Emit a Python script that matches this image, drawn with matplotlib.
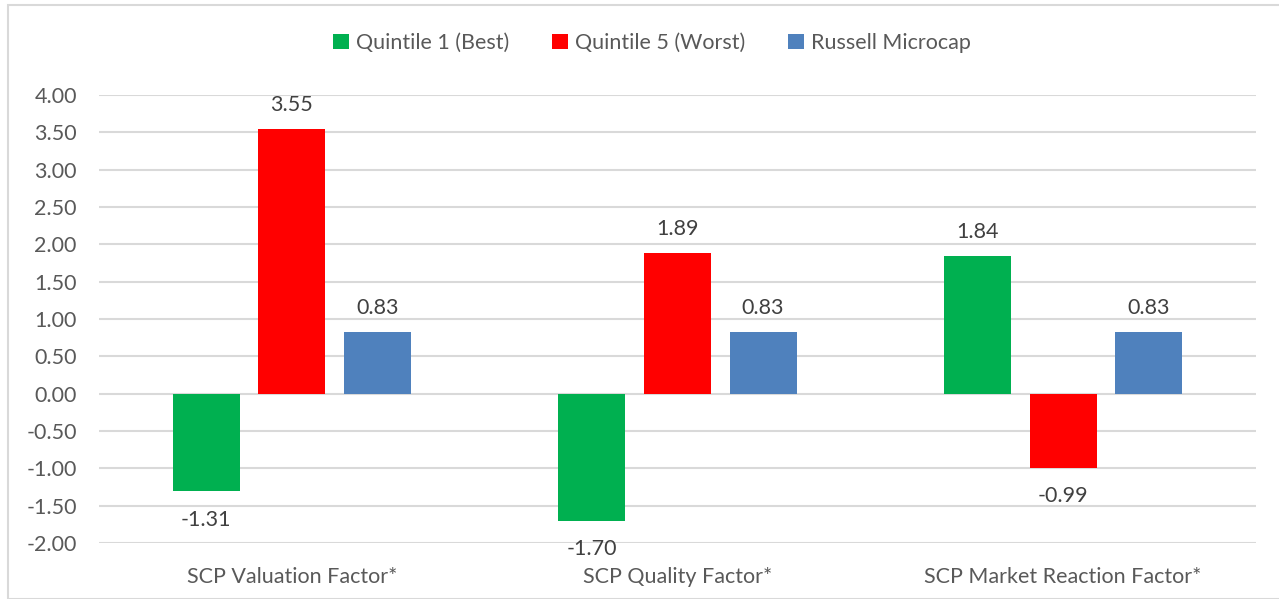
import numpy as np
import matplotlib.pyplot as plt
from matplotlib.patches import Rectangle

categories = ["SCP Valuation Factor*", "SCP Quality Factor*", "SCP Market Reaction Factor*"]
series_names = ["Quintile 1 (Best)", "Quintile 5 (Worst)", "Russell Microcap"]
q1 = [-1.31, -1.70, 1.84]
q5 = [3.55, 1.89, -0.99]
microcap = [0.83, 0.83, 0.83]
colors = ["#00B050", "#FF0000", "#4F81BD"]

plt.rcParams["font.family"] = ["Lato", "DejaVu Sans"]
txt = "#595959"
fs = 15.5

fig = plt.figure(figsize=(12.79, 5.99), dpi=100)
# chart frame
fig.patches.append(Rectangle((8 / 1279, 0), 1.0, 1 - 5 / 599, transform=fig.transFigure,
                             fill=False, edgecolor="#d9d9d9", linewidth=1.5))
ax = fig.add_axes([99 / 1279, 1 - 543 / 599, (1256 - 99) / 1279, (543 - 95) / 599])

x = np.arange(len(categories))
step = 0.222
width = 0.174
for i, (name, vals) in enumerate(zip(series_names, [q1, q5, microcap])):
    pos = x + (i - 1) * step
    bars = ax.bar(pos, vals, width, color=colors[i], label=name, zorder=3)
    for b, v in zip(bars, vals):
        off = 10 if v >= 0 else -13
        ax.annotate(f"{v:.2f}", (b.get_x() + b.get_width() / 2, v), xytext=(0, off),
                    textcoords="offset points", ha="center",
                    va="bottom" if v >= 0 else "top", fontsize=fs, color="#404040")

ax.set_xlim(-0.5, 2.5)
ax.set_ylim(-2, 4)
ax.set_yticks(np.arange(-2, 4.01, 0.5))
ax.set_yticklabels([f"{t:.2f}" for t in np.arange(-2, 4.01, 0.5)])
ax.yaxis.grid(True, color="#d9d9d9", linewidth=1.5, zorder=0)
ax.set_xticks(x)
ax.set_xticklabels(categories)
ax.tick_params(axis="both", length=0, labelsize=fs, labelcolor=txt)
ax.tick_params(axis="x", pad=17)
ax.tick_params(axis="y", pad=16)
for s in ax.spines.values():
    s.set_visible(False)

fig.legend(loc="center", bbox_to_anchor=(652 / 1279, 1 - 43 / 599), ncol=3, frameon=False,
           fontsize=fs, labelcolor=txt, handlelength=0.75, handleheight=0.75,
           handletextpad=0.3, columnspacing=2.0)

fig.savefig("out.png", dpi=100)
